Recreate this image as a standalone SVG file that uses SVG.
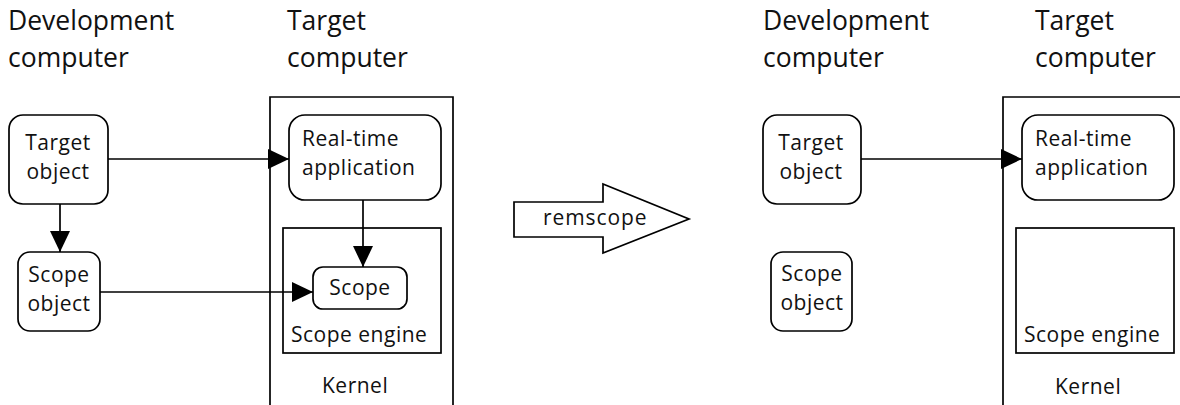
<svg xmlns="http://www.w3.org/2000/svg" width="1180" height="405" viewBox="0 0 1180 405">
  <style>
    .bg { fill: #ffffff; }
    .box { fill: none; stroke: #000; stroke-width: 1.7; }
    .rbox { fill: #fff; stroke: #000; stroke-width: 1.7; }
    .head { font-family: "Open Sans", "Noto Sans", sans-serif; font-size: 26.5px; fill: #111; }
    .lbl { font-family: "Open Sans", "Noto Sans", sans-serif; font-size: 21px; letter-spacing: 0.5px; fill: #111; }
    .small { letter-spacing: 0.9px; }
    .mid { text-anchor: middle; }
    .conn { fill: none; stroke: #000; stroke-width: 1.7; }
  </style>
  <defs>
    <marker id="arr" markerUnits="userSpaceOnUse" markerWidth="22" markerHeight="22" refX="21" refY="10" orient="auto">
      <path d="M0,0 L21,10 L0,20 Z" fill="#000"/>
    </marker>
  </defs>
  <rect class="bg" x="0" y="0" width="1180" height="405"/>

  <!-- Left scene -->
  <g id="heading-dev-left">
    <text class="head" x="8" y="30">Development</text>
    <text class="head" x="8" y="67">computer</text>
  </g>
  <g id="heading-target-left">
    <text class="head" x="287" y="30">Target</text>
    <text class="head" x="287" y="67">computer</text>
  </g>
  <g id="kernel-left">
    <path class="box" d="M270,410 V97 H453 V410"/>
    <text class="lbl" x="322" y="393">Kernel</text>
  </g>
  <g id="target-object-left">
    <rect class="rbox" x="9" y="115" width="99" height="89" rx="14"/>
    <text class="lbl mid" x="58" y="150">Target</text>
    <text class="lbl mid" x="58" y="179">object</text>
  </g>
  <g id="realtime-left">
    <rect class="rbox" x="289" y="115" width="152" height="85" rx="16"/>
    <text class="lbl" x="302" y="146">Real-time</text>
    <text class="lbl" x="302" y="175">application</text>
  </g>
  <g id="scope-object-left">
    <rect class="rbox" x="18" y="252" width="82" height="79" rx="12"/>
    <text class="lbl mid" x="59" y="282">Scope</text>
    <text class="lbl mid" x="59" y="311">object</text>
  </g>
  <g id="scope-engine-left">
    <rect class="box" x="283" y="228" width="158" height="125"/>
    <text class="lbl" x="291" y="342">Scope engine</text>
  </g>
  <g id="scope-left">
    <rect class="rbox" x="313" y="267" width="94" height="42" rx="10"/>
    <text class="lbl mid" x="360" y="295">Scope</text>
  </g>

  <!-- remscope arrow -->
  <g id="remscope">
    <polygon class="box" points="514,202 603,202 603,184 689,219 603,253 603,237 514,237"/>
    <text class="lbl small" x="543" y="225">remscope</text>
  </g>

  <!-- Right scene -->
  <g id="heading-dev-right">
    <text class="head" x="763" y="30">Development</text>
    <text class="head" x="763" y="67">computer</text>
  </g>
  <g id="heading-target-right">
    <text class="head" x="1035" y="30">Target</text>
    <text class="head" x="1035" y="67">computer</text>
  </g>
  <g id="kernel-right">
    <path class="box" d="M1003,410 V97 H1190"/>
    <text class="lbl" x="1055" y="394">Kernel</text>
  </g>
  <g id="target-object-right">
    <rect class="rbox" x="763" y="115" width="98" height="89" rx="14"/>
    <text class="lbl mid" x="811" y="150">Target</text>
    <text class="lbl mid" x="811" y="179">object</text>
  </g>
  <g id="realtime-right">
    <rect class="rbox" x="1022" y="115" width="152" height="85" rx="16"/>
    <text class="lbl" x="1035" y="146">Real-time</text>
    <text class="lbl" x="1035" y="175">application</text>
  </g>
  <g id="scope-object-right">
    <rect class="rbox" x="771" y="252" width="81" height="79" rx="12"/>
    <text class="lbl mid" x="812" y="281">Scope</text>
    <text class="lbl mid" x="812" y="310">object</text>
  </g>
  <g id="scope-engine-right">
    <rect class="box" x="1016" y="228" width="158" height="125"/>
    <text class="lbl" x="1024" y="342">Scope engine</text>
  </g>

  <!-- Connectors -->
  <g id="connectors">
    <line class="conn" x1="108" y1="159" x2="289" y2="159" marker-end="url(#arr)"/>
    <line class="conn" x1="60" y1="204" x2="60" y2="252" marker-end="url(#arr)"/>
    <line class="conn" x1="363" y1="200" x2="363" y2="267" marker-end="url(#arr)"/>
    <line class="conn" x1="100" y1="292" x2="313" y2="292" marker-end="url(#arr)"/>
    <line class="conn" x1="861" y1="159" x2="1022" y2="159" marker-end="url(#arr)"/>
  </g>
</svg>
